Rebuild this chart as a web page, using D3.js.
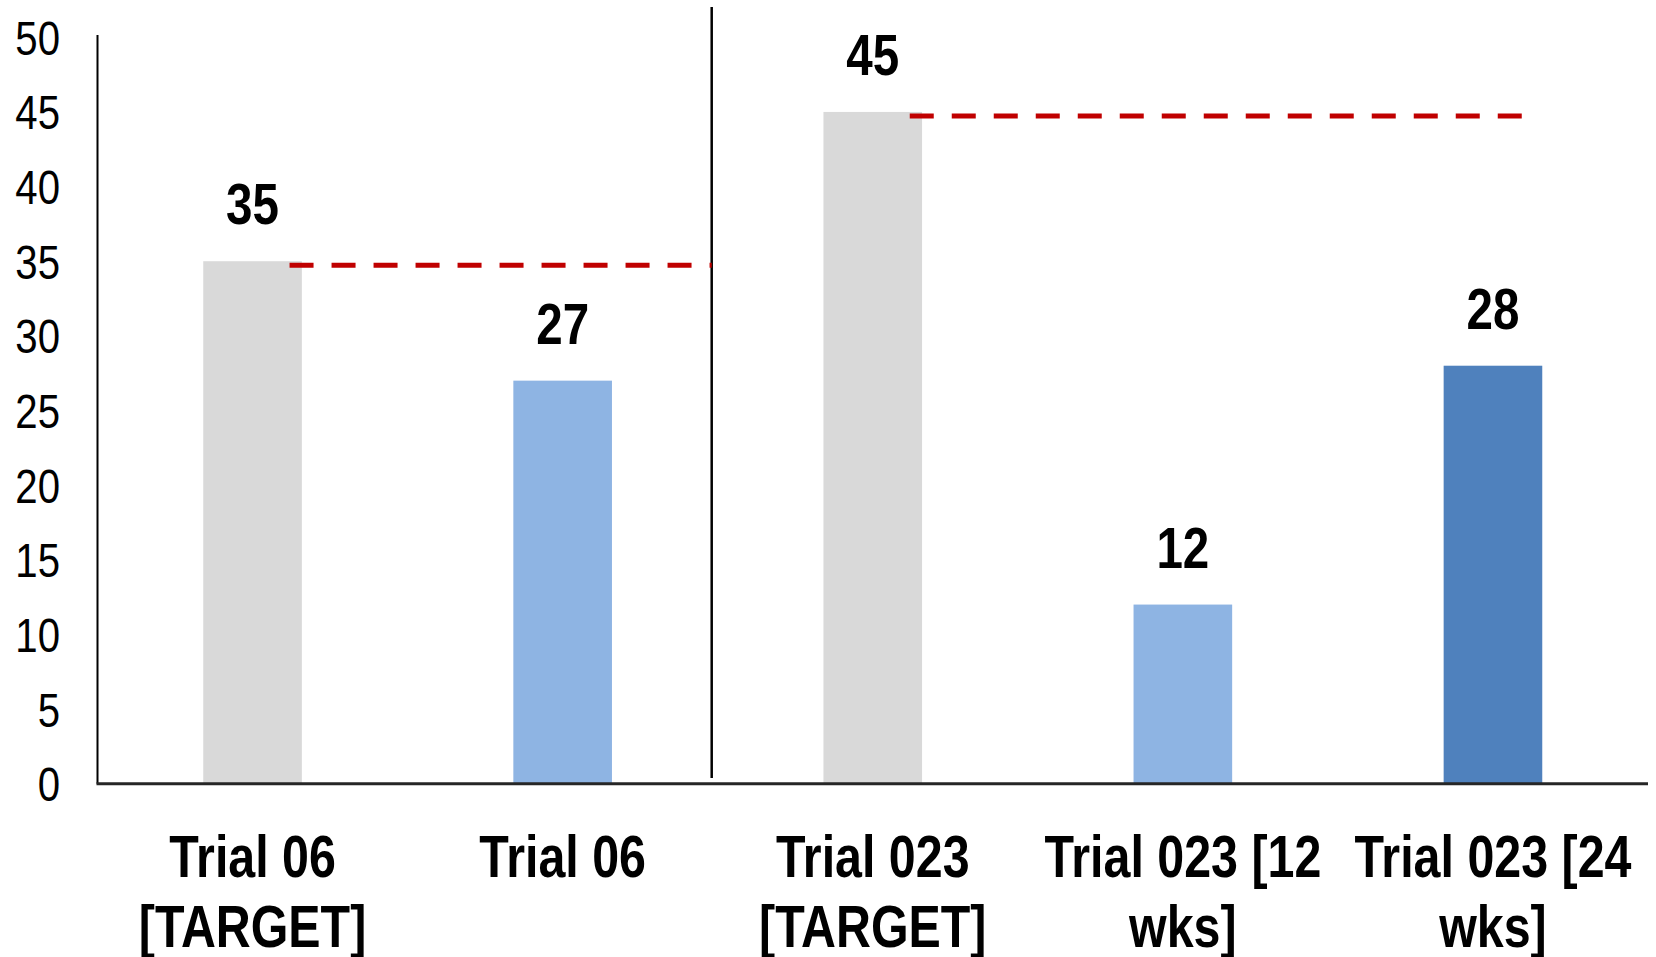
<!DOCTYPE html>
<html>
<head>
<meta charset="utf-8">
<script src="https://cdn.jsdelivr.net/npm/d3@7"></script>
<style>
  html, body { margin: 0; padding: 0; background: #ffffff; }
  svg { display: block; }
  text { font-family: "Liberation Sans", Arial, sans-serif; fill: #000; }
</style>
</head>
<body>
<svg id="chart" width="1656" height="957"></svg>
<script>
// Categories (each label split into its two printed lines)
const categories = [
  "Trial 06 [TARGET]",
  "Trial 06",
  "Trial 023 [TARGET]",
  "Trial 023 [12 wks]",
  "Trial 023 [24 wks]"
];
const categoryLines = [
  ["Trial 06", "[TARGET]"],
  ["Trial 06"],
  ["Trial 023", "[TARGET]"],
  ["Trial 023 [12", "wks]"],
  ["Trial 023 [24", "wks]"]
];
const values = [35, 27, 45, 12, 28];
const barColors = ["#D9D9D9", "#8EB4E3", "#D9D9D9", "#8EB4E3", "#4F81BD"];

// Target reference lines: value, first category, last category
const targets = [
  { value: 35, from: 0, to: 1 },
  { value: 45, from: 2, to: 4 }
];

const yTicks = [0, 5, 10, 15, 20, 25, 30, 35, 40, 45, 50];

(function draw() {
  const svg = d3.select("#chart");
  const plotLeft = 97.5, plotRight = 1648, plotTop = 37.3, plotBottom = 783.7;
  const narrow = 0.82; // horizontal compression for a narrow typeface

  const x = d3.scaleBand()
    .domain(categories)
    .range([plotLeft, plotRight])
    .paddingInner(0.682)
    .paddingOuter(0.341);

  const y = d3.scaleLinear().domain([0, 50]).range([plotBottom, plotTop]);
  const cx = i => x(categories[i]) + x.bandwidth() / 2;

  function narrowText(g, tx, ty, str, size, weight, anchor) {
    return g.append("text")
      .attr("transform", `translate(${tx},${ty}) scale(${narrow},1)`)
      .attr("text-anchor", anchor)
      .style("font-size", size + "px")
      .style("font-weight", weight)
      .text(str);
  }

  // Y tick labels (no tick marks)
  const yAxisG = svg.append("g");
  yTicks.forEach(t => {
    narrowText(yAxisG, 60, y(t) + 17.5, String(t), 49, "normal", "end");
  });

  // Bars
  svg.append("g").selectAll("rect")
    .data(values)
    .join("rect")
    .attr("x", (d, i) => x(categories[i]))
    .attr("y", d => y(d))
    .attr("width", x.bandwidth())
    .attr("height", d => y(0) - y(d))
    .attr("fill", (d, i) => barColors[i]);

  // Value labels
  const valG = svg.append("g");
  values.forEach((v, i) => {
    narrowText(valG, cx(i), y(v) - 37, String(v), 58, "bold", "middle");
  });

  // Separator between the two trials
  const sepX = (cx(1) + cx(2)) / 2 - 6;
  svg.append("line")
    .attr("x1", sepX).attr("x2", sepX)
    .attr("y1", 7).attr("y2", 778)
    .attr("stroke", "#000").attr("stroke-width", 2.5);

  // Target dashed lines
  targets.forEach((t, k) => {
    const x1 = cx(t.from) + 37;
    const x2 = k === 0 ? sepX : cx(t.to) + 29;
    svg.append("line")
      .attr("x1", x1).attr("x2", x2)
      .attr("y1", y(t.value) + 4).attr("y2", y(t.value) + 4)
      .attr("stroke", "#C00000")
      .attr("stroke-width", 5)
      .attr("stroke-dasharray", "24 18");
  });

  // Axis lines
  svg.append("line")
    .attr("x1", plotLeft).attr("x2", plotLeft)
    .attr("y1", 35).attr("y2", plotBottom)
    .attr("stroke", "#000").attr("stroke-width", 2);
  svg.append("line")
    .attr("x1", plotLeft - 1).attr("x2", plotRight)
    .attr("y1", plotBottom).attr("y2", plotBottom)
    .attr("stroke", "#262626").attr("stroke-width", 3);

  // Category labels
  const catG = svg.append("g");
  categoryLines.forEach((lines, i) => {
    lines.forEach((ln, j) => {
      narrowText(catG, cx(i), plotBottom + 93 + j * 70, ln, 59, "bold", "middle");
    });
  });
})();
</script>
</body>
</html>
